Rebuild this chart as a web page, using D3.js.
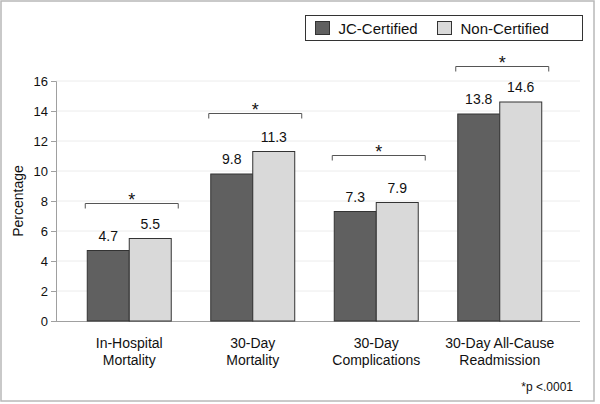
<!DOCTYPE html>
<html><head><meta charset="utf-8">
<script src="https://cdn.jsdelivr.net/npm/d3@7"></script>
<style>body{margin:0;background:#fff}svg{display:block;font-family:"Liberation Sans",Arial,sans-serif}</style>
</head><body><svg id="c" width="600" height="404"></svg>
<script>
const categories = [["In-Hospital","Mortality"],["30-Day","Mortality"],["30-Day","Complications"],["30-Day All-Cause","Readmission"]];
const seriesNames = ["JC-Certified","Non-Certified"];
const jcValues = [4.7, 9.8, 7.3, 13.8];
const nonValues = [5.5, 11.3, 7.9, 14.6];
const bracketLevels = [7.9, 13.9, 11.1, 17.0];
const yTicks = [0,2,4,6,8,10,12,14,16];
const footnote = "*p <.0001";
const colors = ["#606060","#d9d9d9"];

const svg = d3.select("#c");
svg.append("rect").attr("x",1).attr("y",1).attr("width",593).attr("height",400)
  .attr("fill","none").attr("stroke","#b8b8b8").attr("stroke-width",1.5);

const y = d3.scaleLinear().domain([0,16]).range([321,81]);
const x = d3.scaleBand().domain(d3.range(categories.length)).range([67.5,561.5]).paddingInner(0.32).paddingOuter(0.16);
const xs = d3.scaleBand().domain([0,1]).range([0, x.bandwidth()]);

// gridlines
svg.append("g").selectAll("line").data(yTicks.filter(t=>t>0)).join("line")
  .attr("x1",56).attr("x2",580).attr("y1",d=>y(d)).attr("y2",d=>y(d))
  .attr("stroke","#ececec").attr("stroke-width",1);

// y axis
const ya = svg.append("g").attr("transform","translate(56,0)")
  .call(d3.axisLeft(y).tickValues(yTicks).tickSize(5).tickPadding(3));
ya.select(".domain").attr("stroke","#a0a0a0");
ya.selectAll(".tick line").attr("stroke","#a0a0a0");
ya.selectAll("text").attr("font-size",13).attr("fill","#111").attr("font-family","Liberation Sans, Arial, sans-serif");

// x axis line
svg.append("line").attr("x1",56).attr("x2",580).attr("y1",y(0)+0.5).attr("y2",y(0)+0.5).attr("stroke","#a0a0a0");

svg.append("text").attr("transform",`translate(23,${(y(0)+y(16))/2}) rotate(-90)`)
  .attr("text-anchor","middle").attr("font-size",14).attr("fill","#111").text("Percentage");

const data = categories.map((c,i)=>({i, vals:[jcValues[i], nonValues[i]]}));
const g = svg.append("g").selectAll("g").data(data).join("g")
  .attr("transform",d=>`translate(${x(d.i)},0)`);
g.selectAll("rect").data(d=>d.vals.map((v,k)=>({v,k}))).join("rect")
  .attr("x",d=>xs(d.k)).attr("width",xs.bandwidth())
  .attr("y",d=>y(d.v)).attr("height",d=>y(0)-y(d.v))
  .attr("fill",d=>colors[d.k]).attr("stroke","#333").attr("stroke-width",1);
g.selectAll("text.v").data(d=>d.vals.map((v,k)=>({v,k}))).join("text").attr("class","v")
  .attr("x",d=>xs(d.k)+xs.bandwidth()/2).attr("y",d=>y(d.v)-10)
  .attr("text-anchor","middle").attr("font-size",14).attr("fill","#111").text(d=>d.v.toFixed(1));

// brackets
g.append("path").attr("d",d=>{const yy=Math.round(y(bracketLevels[d.i]))+0.5; const x0=-2, x1=x.bandwidth()+7;
  return `M${x0},${yy+5}V${yy}H${x1}V${yy+5}`;})
  .attr("fill","none").attr("stroke","#555").attr("stroke-width",1);
g.append("text").attr("x",x.bandwidth()/2+2.5).attr("y",d=>y(bracketLevels[d.i])+3)
  .attr("text-anchor","middle").attr("font-size",18).attr("fill","#111").text("*");

// category labels
g.append("text").attr("text-anchor","middle").attr("font-size",14).attr("fill","#111")
  .selectAll("tspan").data(d=>categories[d.i]).join("tspan")
  .attr("x",x.bandwidth()/2).attr("y",(d,k)=>348+k*17).text(d=>d);

// footnote
svg.append("text").attr("x",573).attr("y",391).attr("text-anchor","end").attr("font-size",12).attr("fill","#111").text(footnote);

// legend
const lg = svg.append("g");
lg.append("rect").attr("x",305.5).attr("y",15.5).attr("width",277).attr("height",25)
  .attr("fill","#fff").attr("stroke","#333");
const legX = [315, 437];
seriesNames.forEach((s,k)=>{
  lg.append("rect").attr("x",legX[k]+0.5).attr("y",21.5).attr("width",14).attr("height",13)
    .attr("fill",colors[k]).attr("stroke","#333");
  lg.append("text").attr("x",legX[k]+23.5).attr("y",33.5).attr("font-size",15).attr("fill","#111").text(s);
});
</script></body></html>
